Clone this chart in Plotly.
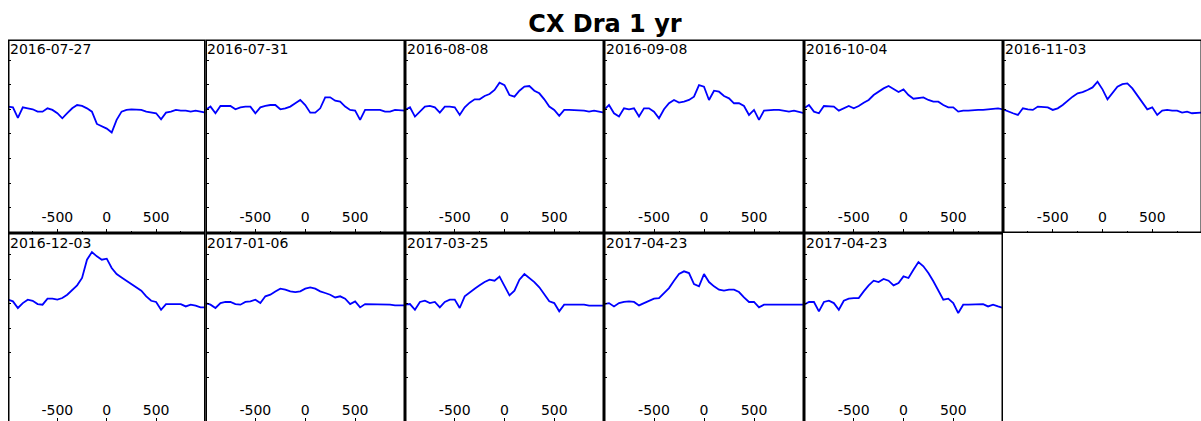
import plotly.graph_objects as go

W, H = 1201, 421

# ---------------- data ----------------
title_text = "CX Dra 1 yr"
velocity = list(range(-1000, 1001, 50))  # 41 samples per spectrum

dates = ["2016-07-27", "2016-07-31", "2016-08-08", "2016-09-08", "2016-10-04", "2016-11-03",
         "2016-12-03", "2017-01-06", "2017-03-25", "2017-04-23", "2017-04-23"]

flux_2016_07_27 = [1.022, 1.016, 0.93, 1.016, 1.008, 1.0, 0.981, 0.981, 1.008, 0.995, 0.968, 0.927,
                   0.968, 1.008, 1.035, 1.027, 1.008, 0.981, 0.881, 0.865, 0.843, 0.811, 0.914, 0.981,
                   0.995, 1.0, 1.0, 0.995, 0.981, 0.973, 0.968, 0.919, 0.973, 0.981, 0.995, 0.989,
                   0.989, 0.981, 0.989, 0.981, 0.973]
flux_2016_07_31 = [0.995, 1.022, 0.968, 1.027, 1.027, 1.027, 1.0, 1.016, 1.022, 1.022, 0.968, 1.016,
                   1.027, 1.035, 1.035, 1.0, 1.008, 1.022, 1.049, 1.076, 1.035, 0.973, 0.973, 1.008,
                   1.097, 1.097, 1.07, 1.062, 1.022, 0.995, 0.989, 0.914, 0.995, 0.995, 0.995, 0.995,
                   0.981, 0.981, 0.995, 0.989, 0.989]
flux_2016_08_08 = [0.995, 1.016, 0.941, 0.981, 1.022, 1.027, 1.016, 0.973, 1.022, 1.022, 1.016, 0.954,
                   1.016, 1.054, 1.081, 1.081, 1.108, 1.124, 1.157, 1.216, 1.197, 1.116, 1.103, 1.151,
                   1.184, 1.189, 1.151, 1.130, 1.081, 1.022, 0.995, 0.946, 0.995, 0.995, 0.995, 0.989,
                   0.989, 0.981, 0.989, 0.981, 0.973]
flux_2016_09_08 = [0.995, 1.035, 0.968, 0.941, 1.008, 1.0, 1.008, 0.941, 1.008, 1.008, 0.981, 0.927,
                   1.0, 1.049, 1.076, 1.054, 1.062, 1.076, 1.103, 1.197, 1.184, 1.076, 1.151, 1.143,
                   1.108, 1.089, 1.049, 1.049, 1.027, 0.954, 0.995, 0.914, 0.989, 0.995, 0.995, 0.995,
                   0.989, 0.981, 0.989, 0.981, 0.968]
flux_2016_10_04 = [1.008, 1.035, 0.981, 0.968, 1.027, 1.022, 1.022, 0.989, 1.008, 1.027, 1.008, 1.027,
                   1.054, 1.076, 1.116, 1.143, 1.170, 1.189, 1.162, 1.140, 1.162, 1.116, 1.086, 1.089,
                   1.097, 1.076, 1.062, 1.062, 1.035, 1.016, 1.016, 0.981, 0.989, 0.989, 0.995, 0.995,
                   0.995, 1.0, 1.008, 1.008, 1.0]
flux_2016_11_03 = [1.0, 0.981, 0.968, 0.954, 1.008, 1.0, 0.995, 1.022, 1.016, 1.016, 0.995, 1.008,
                   1.035, 1.070, 1.103, 1.130, 1.140, 1.157, 1.178, 1.224, 1.162, 1.081, 1.135, 1.184,
                   1.205, 1.211, 1.170, 1.116, 1.062, 1.0, 1.016, 0.954, 0.989, 0.995, 0.989, 0.989,
                   0.973, 0.981, 0.968, 0.973, 0.973]
flux_2016_12_03 = [1.033, 1.019, 0.965, 1.005, 1.033, 1.024, 0.997, 0.992, 1.041, 1.041, 1.033, 1.046,
                   1.073, 1.114, 1.149, 1.209, 1.358, 1.420, 1.385, 1.358, 1.366, 1.290, 1.241, 1.214,
                   1.187, 1.160, 1.133, 1.106, 1.060, 1.024, 1.014, 0.951, 0.997, 0.997, 0.997, 0.997,
                   0.978, 0.992, 0.984, 0.970, 0.970]
flux_2017_01_06 = [1.005, 0.992, 0.965, 1.005, 1.014, 1.014, 0.997, 0.992, 1.014, 1.019, 1.033, 1.005,
                   1.060, 1.073, 1.100, 1.122, 1.114, 1.100, 1.095, 1.100, 1.122, 1.133, 1.122, 1.100,
                   1.087, 1.073, 1.051, 1.060, 1.041, 0.997, 1.019, 0.970, 0.997, 0.997, 0.997, 0.997,
                   0.997, 0.992, 0.986, 0.986, 0.986]
flux_2017_03_25 = [0.992, 0.997, 0.951, 1.014, 1.024, 1.005, 1.014, 0.970, 1.014, 1.033, 1.033, 0.965,
                   1.060, 1.095, 1.122, 1.149, 1.176, 1.195, 1.187, 1.220, 1.141, 1.068, 1.106, 1.195,
                   1.241, 1.209, 1.176, 1.133, 1.079, 1.019, 1.005, 0.938, 0.992, 0.992, 0.992, 0.997,
                   0.992, 0.984, 0.984, 0.984, 0.984]
flux_2017_04_23a = [0.997, 1.005, 0.978, 1.005, 1.014, 1.019, 1.014, 0.986, 1.005, 1.024, 1.041, 1.046,
                    1.087, 1.127, 1.187, 1.241, 1.263, 1.249, 1.160, 1.141, 1.241, 1.176, 1.141, 1.114,
                    1.106, 1.114, 1.114, 1.095, 1.051, 1.014, 1.014, 0.970, 0.992, 0.992, 0.992, 0.992,
                    0.992, 0.986, 0.992, 0.992, 0.992]
flux_2017_04_23b = [0.992, 1.014, 1.014, 0.938, 1.014, 1.024, 1.005, 0.951, 1.024, 1.041, 1.046, 1.046,
                    1.100, 1.149, 1.187, 1.176, 1.201, 1.187, 1.149, 1.168, 1.222, 1.209, 1.276, 1.339,
                    1.304, 1.249, 1.182, 1.106, 1.033, 1.041, 1.005, 0.924, 0.992, 0.992, 0.992, 0.992,
                    0.997, 0.978, 0.992, 0.978, 0.965]

spectra = [flux_2016_07_27, flux_2016_07_31, flux_2016_08_08, flux_2016_09_08, flux_2016_10_04,
           flux_2016_11_03, flux_2016_12_03, flux_2017_01_06, flux_2017_03_25, flux_2017_04_23a,
           flux_2017_04_23b]

x_tick_vals = [-500, 0, 500]
x_tick_text = ["-500", "0", "500"]
x_minor_vals = [-750, -250, 250, 750]
y_tick_vals = [0.2, 0.4, 0.6, 0.8, 1.0, 1.2, 1.4]

# ---------------- layout geometry (pixels) ----------------
col_edges = [8, 205.5, 405, 604, 804, 1003, 1202]
row_edges = [39.5, 233, 426.5]
px_per_unit = 123.0
unity_px = [109.3, 303.7]          # pixel row of flux = 1.0 in each row of panels
FONT = "DejaVu Sans"

fig = go.Figure()
layout_axes = {}
shapes = []
annotations = []

for i, (date, flux) in enumerate(zip(dates, spectra)):
    r, c = divmod(i, 6)
    x0, x1 = col_edges[c], col_edges[c + 1]
    vx1 = min(x1, W)
    yt, yb_full = row_edges[r], row_edges[r + 1]
    yb = min(yb_full, H)
    ref = unity_px[r]
    suffix = "" if i == 0 else str(i + 1)

    xr = [-1000, -1000 + (vx1 - x0) / (x1 - x0) * 2000]
    yr = [1 - (yb - ref) / px_per_unit, 1 + (ref - yt) / px_per_unit]

    xa = dict(domain=[x0 / W, vx1 / W], range=xr, anchor="y" + suffix,
              showgrid=False, zeroline=False, showline=False,
              tickmode="array", tickvals=x_tick_vals, ticktext=x_tick_text,
              ticks="inside", ticklen=4 if r == 0 else 3, tickwidth=1, tickcolor="black",
              ticklabelposition="inside",
              tickfont=dict(family=FONT, size=14, color="black"),
              fixedrange=True)
    if r == 0:
        xa["minor"] = dict(tickmode="array", tickvals=x_minor_vals, ticks="inside",
                           ticklen=2, tickwidth=1, tickcolor="black", showgrid=False)
        xa["ticklabelstandoff"] = 4
    else:
        xa["ticklabelstandoff"] = 0
    ya = dict(domain=[1 - yb / H, 1 - yt / H], range=yr, anchor="x" + suffix,
              showgrid=False, zeroline=False, showline=False,
              tickmode="array", tickvals=y_tick_vals, ticks="inside", ticklen=3,
              tickwidth=1, tickcolor="black", showticklabels=False, fixedrange=True)
    layout_axes["xaxis" + suffix] = xa
    layout_axes["yaxis" + suffix] = ya

    fig.add_trace(go.Scatter(x=velocity, y=flux, mode="lines",
                             line=dict(color="#0000FF", width=1.8),
                             xaxis="x" + suffix, yaxis="y" + suffix,
                             showlegend=False, hoverinfo="skip"))

    shapes.append(dict(type="rect", xref="paper", yref="paper",
                       x0=(x0 + 0.75) / W, x1=(x1 - 0.75) / W,
                       y0=1 - (yb_full - 0.75) / H, y1=1 - (yt + 0.75) / H,
                       line=dict(color="black", width=1.5), fillcolor="rgba(0,0,0,0)",
                       layer="above"))
    annotations.append(dict(text=date, xref="paper", yref="paper",
                            x=(x0 - 0.5) / W, y=1 - yt / H, xanchor="left", yanchor="top",
                            showarrow=False, font=dict(family=FONT, size=14, color="black")))

fig.update_layout(
    width=W, height=H,
    margin=dict(l=0, r=0, t=0, b=0),
    paper_bgcolor="white", plot_bgcolor="white",
    title=dict(text=title_text, x=605 / W, xanchor="center", xref="paper",
               y=1 - 23.5 / H, yanchor="middle", yref="paper",
               font=dict(family=FONT, size=24, color="black", weight="bold")),
    shapes=shapes, annotations=annotations,
    **layout_axes,
)

fig.write_html("out.html", config={"displayModeBar": False},
               post_script="document.body.style.margin='0';document.body.style.overflow='hidden';")
